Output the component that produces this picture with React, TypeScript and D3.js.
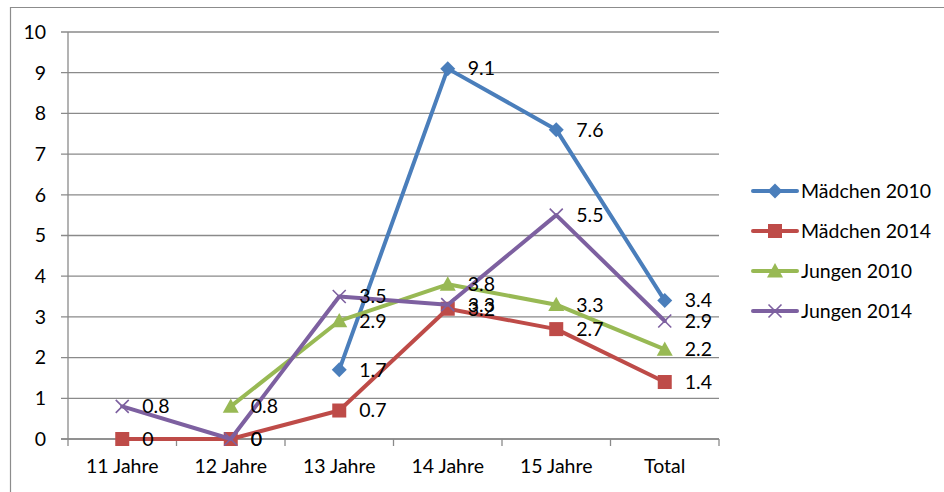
import React from "react";
import * as d3 from "d3";

const categories = ["11 Jahre", "12 Jahre", "13 Jahre", "14 Jahre", "15 Jahre", "Total"];
const maedchen2010: (number | null)[] = [null, null, 1.7, 9.1, 7.6, 3.4];
const maedchen2014: (number | null)[] = [0, 0, 0.7, 3.2, 2.7, 1.4];
const jungen2010: (number | null)[] = [null, 0.8, 2.9, 3.8, 3.3, 2.2];
const jungen2014: (number | null)[] = [0.8, 0, 3.5, 3.3, 5.5, 2.9];
const yTicks = [0, 1, 2, 3, 4, 5, 6, 7, 8, 9, 10];

const series = [
  { name: "Mädchen 2010", values: maedchen2010, color: "#4A7EBB", marker: "diamond" },
  { name: "Mädchen 2014", values: maedchen2014, color: "#BE4B48", marker: "square" },
  { name: "Jungen 2010", values: jungen2010, color: "#98B954", marker: "triangle" },
  { name: "Jungen 2014", values: jungen2014, color: "#7D60A0", marker: "x" },
];

const W = 944, H = 492;
const plot = { left: 68, right: 719, top: 32, bottom: 439 };
const FONT = "Lato, 'Open Sans', sans-serif";
const FS = 19.5;

function Marker({ type, x, y, color }: { type: string; x: number; y: number; color: string }) {
  if (type === "diamond") {
    const s = 7.5;
    return <path d={`M${x},${y - s}L${x + s},${y}L${x},${y + s}L${x - s},${y}Z`} fill={color} />;
  }
  if (type === "square") {
    const s = 7;
    return <rect x={x - s} y={y - s} width={2 * s} height={2 * s} fill={color} />;
  }
  if (type === "triangle") {
    const s = 8;
    return <path d={`M${x},${y - s}L${x + s},${y + s * 0.8}L${x - s},${y + s * 0.8}Z`} fill={color} />;
  }
  const s = 6.5;
  return (
    <path d={`M${x - s},${y - s}L${x + s},${y + s}M${x - s},${y + s}L${x + s},${y - s}`} stroke={color} strokeWidth={1.6} fill="none" />
  );
}

export default function App() {
  const x = d3.scaleBand<string>().domain(categories).range([plot.left, plot.right]).paddingInner(0).paddingOuter(0);
  const y = d3.scaleLinear().domain([0, 10]).range([plot.bottom, plot.top]);
  const cx = (c: string) => (x(c) as number) + x.bandwidth() / 2;
  const line = d3
    .line<number | null>()
    .defined((d) => d !== null)
    .x((_, i) => cx(categories[i]))
    .y((d) => y(d as number));

  const boundaries = categories.map((c) => x(c) as number).concat([plot.right]);

  return (
    <svg width={W} height={H} style={{ position: "absolute", left: 0, top: 0, display: "block", background: "#fff" }}>
      <rect x={0} y={0} width={W} height={H} fill="#fff" />
      {/* outer frame */}
      <path d={`M10.5,${H}L10.5,7.5L${W},7.5`} stroke="#8c8c8c" strokeWidth={1.2} fill="none" />
      {/* gridlines */}
      {yTicks.map((t) => (
        <line key={t} x1={plot.left - 7} x2={plot.right} y1={y(t)} y2={y(t)} stroke="#8a8a8a" strokeWidth={1.3} />
      ))}
      {yTicks.map((t) => (
        <text key={"l" + t} x={46} y={y(t)} dy="0.35em" textAnchor="end" fontFamily={FONT} fontSize={FS} fill="#000">
          {t}
        </text>
      ))}
      {/* axes */}
      <line x1={plot.left} x2={plot.left} y1={plot.top} y2={plot.bottom} stroke="#8a8a8a" strokeWidth={1.3} />
      <line x1={plot.left - 7} x2={plot.right} y1={plot.bottom} y2={plot.bottom} stroke="#8a8a8a" strokeWidth={1.3} />
      {boundaries.map((b, i) => (
        <line key={i} x1={b} x2={b} y1={plot.bottom} y2={plot.bottom + 7} stroke="#8a8a8a" strokeWidth={1.3} />
      ))}
      {categories.map((c) => (
        <text key={c} x={cx(c)} y={plot.bottom + 34} textAnchor="middle" fontFamily={FONT} fontSize={FS} fill="#000">
          {c}
        </text>
      ))}
      {/* series */}
      {series.map((s) => (
        <g key={s.name}>
          <path d={line(s.values) || ""} stroke={s.color} strokeWidth={4} fill="none" strokeLinejoin="round" strokeLinecap="round" />
          {s.values.map((v, i) =>
            v === null ? null : <Marker key={i} type={s.marker} x={cx(categories[i])} y={y(v)} color={s.color} />
          )}
        </g>
      ))}
      {/* data labels */}
      {series.map((s) =>
        s.values.map((v, i) =>
          v === null ? null : (
            <text key={s.name + i} x={cx(categories[i]) + 20} y={y(v)} dy="0.35em" fontFamily={FONT} fontSize={FS} fill="#000">
              {v}
            </text>
          )
        )
      )}
      {/* legend */}
      {series.map((s, i) => {
        const ly = 191 + i * 40;
        return (
          <g key={"lg" + s.name}>
            <line x1={753} x2={797} y1={ly} y2={ly} stroke={s.color} strokeWidth={4} strokeLinecap="round" />
            <Marker type={s.marker} x={775} y={ly} color={s.color} />
            <text x={801} y={ly} dy="0.35em" fontFamily={FONT} fontSize={FS} fill="#000">
              {s.name}
            </text>
          </g>
        );
      })}
    </svg>
  );
}
